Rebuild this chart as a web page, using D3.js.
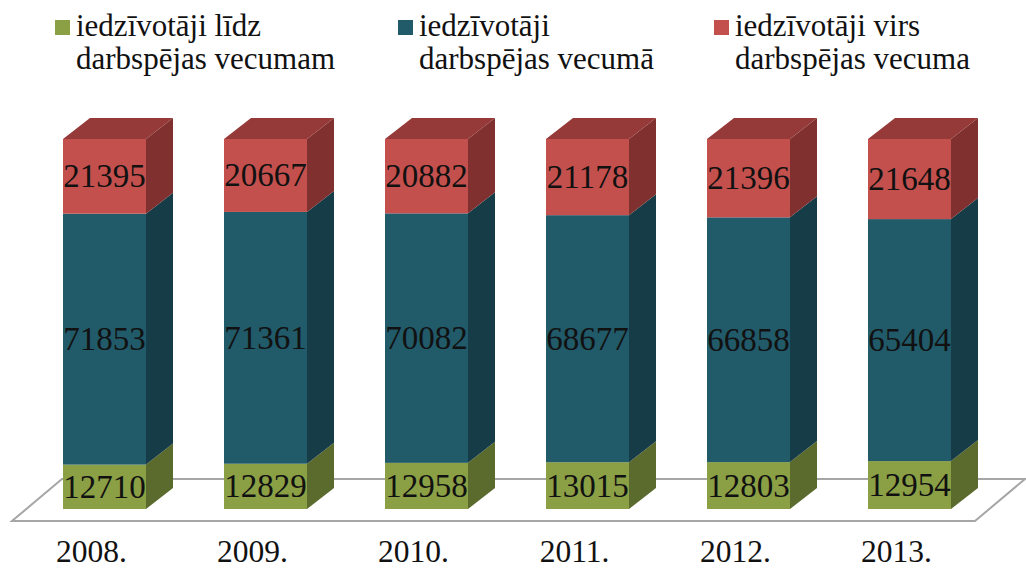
<!DOCTYPE html>
<html>
<head>
<meta charset="utf-8">
<script src="https://cdn.jsdelivr.net/npm/d3@7"></script>
<style>
  body { margin: 0; background: #fff; }
  svg { display: block; }
</style>
</head>
<body>
<svg width="1026" height="569"></svg>
<script>
var years = ["2008.", "2009.", "2010.", "2011.", "2012.", "2013."];
var lidz = [12710, 12829, 12958, 13015, 12803, 12954];
var vecuma = [71853, 71361, 70082, 68677, 66858, 65404];
var virs = [21395, 20667, 20882, 21178, 21396, 21648];
var seriesNames = [
  ["iedzīvotāji līdz", "darbspējas vecumam"],
  ["iedzīvotāji", "darbspējas vecumā"],
  ["iedzīvotāji virs", "darbspējas vecuma"]
];

var font = "Liberation Serif";

var svg = d3.select("svg");

// colours: front, side, top
var colors = [
  { front: "#8b9f45", side: "#5b6b2d", top: "#6e8036" },
  { front: "#215a69", side: "#163c48", top: "#1a4857" },
  { front: "#c3504d", side: "#80312f", top: "#953a38" }
];

var dx = 27, dy = 21; // depth of the bars

var x = d3.scaleBand()
  .domain(years)
  .range([63, 951])
  .paddingInner(78 / 161)
  .paddingOuter(0);

var y = d3.scaleLinear().domain([0, 1]).range([509, 139]);

// stacked shares
var table = years.map(function(yr, i) {
  return { year: yr, s0: lidz[i], s1: vecuma[i], s2: virs[i] };
});
var stack = d3.stack().keys(["s0", "s1", "s2"]).offset(d3.stackOffsetExpand);
var layers = stack(table);

// floor
svg.append("polygon")
  .attr("points", [[12, 521], [975, 521], [1025, 479], [62, 479]].join(" "))
  .attr("fill", "#fff")
  .attr("stroke", "#a6a6a6")
  .attr("stroke-width", 2);

var bw = x.bandwidth();

layers.forEach(function(layer, k) {
  var g = svg.append("g").attr("class", "layer" + k);
  layer.forEach(function(d) {
    var x0 = x(d.data.year), x1 = x0 + bw;
    var yb = y(d[0]), yt = y(d[1]);
    // side
    g.append("polygon")
      .attr("points", [[x1, yb], [x1 + dx, yb - dy], [x1 + dx, yt - dy], [x1, yt]].join(" "))
      .attr("fill", colors[k].side);
    // front
    g.append("rect")
      .attr("x", x0).attr("y", yt)
      .attr("width", bw).attr("height", yb - yt)
      .attr("fill", colors[k].front);
    // top only for the last layer
    if (k === layers.length - 1) {
      g.append("polygon")
        .attr("points", [[x0, yt], [x0 + dx, yt - dy], [x1 + dx, yt - dy], [x1, yt]].join(" "))
        .attr("fill", colors[k].top);
    }
  });
});

// value labels
var vals = [lidz, vecuma, virs];
layers.forEach(function(layer, k) {
  svg.append("g").selectAll("text")
    .data(layer)
    .enter().append("text")
    .attr("x", function(d) { return x(d.data.year) + bw / 2; })
    .attr("y", function(d) { return (y(d[0]) + y(d[1])) / 2 + 11; })
    .attr("text-anchor", "middle")
    .attr("font-family", font)
    .attr("font-size", 33)
    .attr("fill", "#111")
    .text(function(d, i) { return vals[k][i]; });
});

// category labels
svg.append("g").selectAll("text")
  .data(years)
  .enter().append("text")
  .attr("x", function(d) { return x(d) + bw / 2 - 13; })
  .attr("y", 562)
  .attr("text-anchor", "middle")
  .attr("font-family", font)
  .attr("font-size", 31.5)
  .attr("fill", "#111")
  .text(function(d) { return d; });

// legend
var legX = [55, 398, 714];
seriesNames.forEach(function(lines, k) {
  var g = svg.append("g").attr("transform", "translate(" + legX[k] + ",0)");
  g.append("rect")
    .attr("x", 0).attr("y", 20)
    .attr("width", 15).attr("height", 15)
    .attr("fill", colors[k].front);
  g.selectAll("text")
    .data(lines)
    .enter().append("text")
    .attr("x", 21)
    .attr("y", function(d, i) { return 36 + i * 33; })
    .attr("font-family", font)
    .attr("font-size", 31)
    .attr("fill", "#111")
    .text(function(d) { return d; });
});
</script>
</body>
</html>
